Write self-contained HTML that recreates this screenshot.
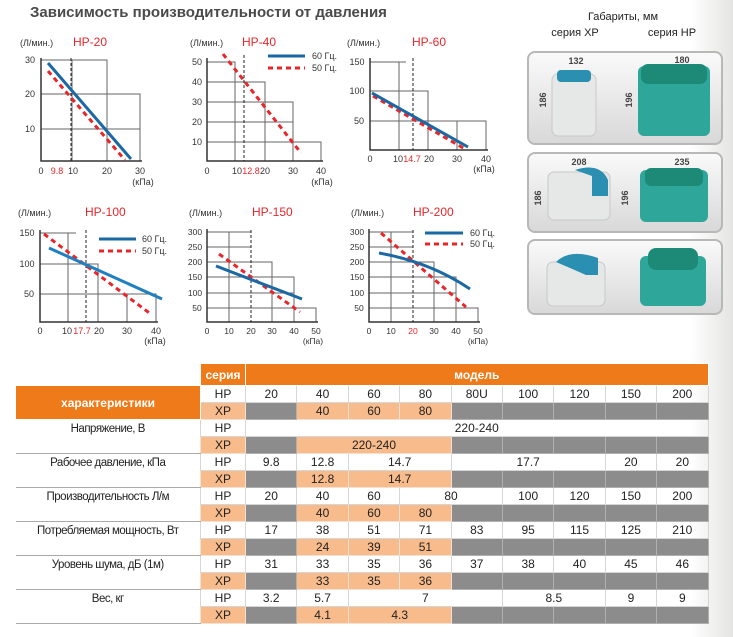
<!DOCTYPE html>
<html><head><meta charset="utf-8"><style>
body{margin:0;width:733px;height:637px;background:#fff;position:relative;overflow:hidden;font-family:"Liberation Sans",sans-serif;}
.grad{position:absolute;left:690px;top:0;width:43px;height:637px;background:linear-gradient(90deg,#fff,#e4e4e2);}
svg{position:absolute;left:0;top:0;}
table{position:absolute;left:15px;top:363px;border-collapse:collapse;table-layout:fixed;font-family:"Liberation Sans Narrow","Liberation Sans",sans-serif;font-size:12px;color:#222;}
td{height:16px;padding:0;text-align:center;border:1px solid #d6d6d6;line-height:16px;}
.h{background:#ef7a1a;color:#fff;font-weight:bold;height:21px;border-color:#fff}
.o{background:#f8bb8b;border-color:#f4e0d0}
.g{background:#8c8c8c;border-color:#b0b0b0}
.l{border:none;vertical-align:top;border-bottom:1px solid #aaa;font-size:11.5px;letter-spacing:-0.5px;padding-top:1px}
</style></head><body>
<div class="grad"></div>
<svg width="733" height="637" viewBox="0 0 733 637" font-family="Liberation Sans, sans-serif">
<defs><linearGradient id="pg" x1="0" y1="0" x2="0" y2="1"><stop offset="0" stop-color="#fafafa"/><stop offset="1" stop-color="#d8d8d8"/></linearGradient></defs>
<text x="30" y="17" font-size="15" font-weight="bold" fill="#4a4a4a">Зависимость производительности от давления</text>
<g font-size="9" fill="#333">
<text x="20" y="46">(Л/мин.)</text><text x="73" y="46" font-size="12" fill="#e8262a">HP-20</text>
<g stroke="#666" fill="none"><path d="M41 60H107V161M72 60V161M41 94H140V161M41 129H140"/></g>
<path d="M41 58V161H142" stroke="#333" stroke-width="1.5" fill="none"/>
<line x1="71" y1="58" x2="71" y2="161" stroke="#222" stroke-dasharray="3,2"/>
<line x1="48" y1="71" x2="125" y2="160" stroke="#e8262a" stroke-width="3" stroke-dasharray="5,4"/>
<line x1="48" y1="63" x2="131" y2="159" stroke="#1a68a4" stroke-width="3"/>
<g text-anchor="middle"><text x="41" y="174">0</text><text x="57" y="174" fill="#e8262a">9.8</text><text x="73" y="174">10</text><text x="107" y="174">20</text><text x="140" y="174">30</text><text x="143" y="185">(кПа)</text>
<text x="30" y="63">30</text><text x="30" y="97">20</text><text x="30" y="132">10</text></g>
<text x="190" y="46">(Л/мин.)</text><text x="242" y="46" font-size="12" fill="#e8262a">HP-40</text>
<g stroke="#666" fill="none"><path d="M207 62H235V161M207 82H265V161M207 102H293V161M207 122H293M207 142H321V161"/></g>
<path d="M207 58V161H323" stroke="#333" stroke-width="1.5" fill="none"/>
<line x1="244" y1="55" x2="244" y2="161" stroke="#222" stroke-dasharray="3,2"/>
<line x1="223" y1="54" x2="301" y2="153" stroke="#e8262a" stroke-width="3" stroke-dasharray="5,4"/>
<line x1="268" y1="56" x2="305" y2="56" stroke="#1a68a4" stroke-width="3"/><text x="312" y="59">60 Гц.</text>
<line x1="268" y1="68" x2="305" y2="68" stroke="#e8262a" stroke-width="3" stroke-dasharray="5,4"/><text x="312" y="71">50 Гц.</text>
<g text-anchor="middle"><text x="207" y="174">0</text><text x="237" y="174">10</text><text x="251" y="174" fill="#e8262a">12.8</text><text x="265" y="174">20</text><text x="293" y="174">30</text><text x="321" y="174">40</text><text x="322" y="185">(кПа)</text>
<text x="197" y="65">50</text><text x="197" y="85">40</text><text x="197" y="105">30</text><text x="197" y="125">20</text><text x="197" y="145">10</text></g>
<text x="347" y="46">(Л/мин.)</text><text x="412" y="46" font-size="12" fill="#e8262a">HP-60</text>
<g stroke="#666" fill="none"><path d="M370 62H406M399 62V150M370 91H428V150M370 121H486V150M457 121V150"/></g>
<path d="M370 58V150H488" stroke="#333" stroke-width="1.5" fill="none"/>
<line x1="413" y1="58" x2="413" y2="150" stroke="#222" stroke-dasharray="3,2"/>
<line x1="373" y1="96" x2="465" y2="149" stroke="#e8262a" stroke-width="3" stroke-dasharray="5,4"/>
<line x1="372" y1="93" x2="468" y2="147" stroke="#1a68a4" stroke-width="3"/>
<g text-anchor="middle"><text x="370" y="162">0</text><text x="398" y="162">10</text><text x="412" y="162" fill="#e8262a">14.7</text><text x="429" y="162">20</text><text x="457" y="162">30</text><text x="486" y="162">40</text><text x="484" y="172">(кПа)</text>
<text x="357" y="65">150</text><text x="357" y="94">100</text><text x="359" y="124">50</text></g>
<text x="18" y="216">(Л/мин.)</text><text x="85" y="216" font-size="12" fill="#e8262a">HP-100</text>
<g stroke="#666" fill="none"><path d="M40 233H76M68 233V322M40 264H98V322M40 294H156V322M127 294V322"/></g>
<path d="M40 230V322H158" stroke="#333" stroke-width="1.5" fill="none"/>
<line x1="86" y1="230" x2="86" y2="322" stroke="#222" stroke-dasharray="3,2"/>
<line x1="44" y1="234" x2="152" y2="315" stroke="#e8262a" stroke-width="3" stroke-dasharray="5,4"/>
<line x1="49" y1="248" x2="162" y2="299" stroke="#1f7fbf" stroke-width="3"/>
<line x1="99" y1="239" x2="136" y2="239" stroke="#1a68a4" stroke-width="3"/><text x="142" y="242">60 Гц.</text>
<line x1="99" y1="251" x2="136" y2="251" stroke="#e8262a" stroke-width="3" stroke-dasharray="5,4"/><text x="142" y="254">50 Гц.</text>
<g text-anchor="middle"><text x="40" y="334">0</text><text x="67" y="334">10</text><text x="82" y="334" fill="#e8262a">17.7</text><text x="99" y="334">20</text><text x="127" y="334">30</text><text x="156" y="334">40</text><text x="155" y="344">(кПа)</text>
<text x="27" y="236">150</text><text x="27" y="267">100</text><text x="29" y="297">50</text></g>
<text x="189" y="216">(Л/мин.)</text><text x="252" y="216" font-size="12" fill="#e8262a">HP-150</text>
<g stroke="#666" fill="none"><path d="M207 232H251M229 232V322M207 247H251M207 262H272V322M207 277H294V322M207 293H294M207 308H316V322"/></g>
<path d="M207 229V322H318" stroke="#333" stroke-width="1.5" fill="none"/>
<line x1="251" y1="230" x2="251" y2="322" stroke="#222" stroke-dasharray="3,2"/>
<line x1="219" y1="254" x2="300" y2="312" stroke="#e8262a" stroke-width="3" stroke-dasharray="5,4"/>
<line x1="216" y1="266" x2="302" y2="299" stroke="#1a68a4" stroke-width="3"/>
<g text-anchor="middle" font-size="8.5"><text x="207" y="334">0</text><text x="229" y="334">10</text><text x="251" y="334">20</text><text x="272" y="334">30</text><text x="294" y="334">40</text><text x="316" y="334">50</text><text x="313" y="344">(кПа)</text>
<text x="195" y="235">300</text><text x="195" y="250">250</text><text x="195" y="265">200</text><text x="195" y="280">150</text><text x="195" y="296">100</text><text x="197" y="311">50</text></g>
<text x="351" y="216">(Л/мин.)</text><text x="413" y="216" font-size="12" fill="#e8262a">HP-200</text>
<g stroke="#666" fill="none"><path d="M369 232H413M391 232V322M369 247H413M369 262H434V322M369 277H456V322M369 293H456M369 308H478V322"/></g>
<path d="M369 229V322H480" stroke="#333" stroke-width="1.5" fill="none"/>
<line x1="413" y1="230" x2="413" y2="322" stroke="#222" stroke-dasharray="3,2"/>
<line x1="381" y1="233" x2="466" y2="307" stroke="#e8262a" stroke-width="3" stroke-dasharray="5,4"/>
<path d="M379 253Q430 262 470 289" stroke="#1a68a4" stroke-width="3" fill="none"/>
<line x1="425" y1="233" x2="463" y2="233" stroke="#1a68a4" stroke-width="3"/><text x="470" y="236">60 Гц.</text>
<line x1="425" y1="244" x2="463" y2="244" stroke="#e8262a" stroke-width="3" stroke-dasharray="5,4"/><text x="470" y="247">50 Гц.</text>
<g text-anchor="middle" font-size="8.5"><text x="369" y="334">0</text><text x="391" y="334">10</text><text x="413" y="334" fill="#e8262a">20</text><text x="434" y="334">30</text><text x="456" y="334">40</text><text x="478" y="334">50</text><text x="478" y="344">(кПа)</text>
<text x="357" y="235">300</text><text x="357" y="250">250</text><text x="357" y="265">200</text><text x="357" y="280">150</text><text x="357" y="296">100</text><text x="359" y="311">50</text></g>
</g>
<g font-size="11" fill="#222" text-anchor="middle">
<text x="623" y="20">Габариты, мм</text><text x="575" y="36">серия XP</text><text x="672" y="36">серия HP</text></g>
<g stroke="#b8b8b8" stroke-width="2" fill="url(#pg)">
<rect x="528" y="52" width="194" height="92" rx="7"/>
<rect x="528" y="153" width="194" height="79" rx="7"/>
<rect x="528" y="240" width="194" height="74" rx="7"/></g>
<g>
<rect x="552" y="74" width="44" height="62" rx="6" fill="#e6e8e8" stroke="#c8c8c8"/>
<rect x="557" y="70" width="34" height="12" rx="4" fill="#2a8fb0"/>
<rect x="638" y="66" width="72" height="70" rx="6" fill="#2ea79a"/>
<rect x="641" y="64" width="66" height="20" rx="7" fill="#1d8a78"/>
<rect x="548" y="172" width="62" height="48" rx="6" fill="#e6e8e8" stroke="#c8c8c8"/>
<path d="M575 170Q600 162 608 180V196H592V176Z" fill="#2a8fb0"/>
<rect x="640" y="170" width="68" height="52" rx="6" fill="#2ea79a"/>
<rect x="645" y="168" width="58" height="18" rx="6" fill="#1d8a78"/>
<rect x="547" y="262" width="58" height="44" rx="6" fill="#e6e8e8" stroke="#c8c8c8"/>
<path d="M556 262Q570 248 598 258V275H586L570 268Z" fill="#2a8fb0"/>
<rect x="640" y="256" width="66" height="50" rx="6" fill="#2ea79a"/>
<rect x="648" y="248" width="50" height="22" rx="8" fill="#1d8a78"/>
</g>
<g font-size="9" font-weight="bold" fill="#444" text-anchor="middle">
<text x="576" y="64">132</text><text x="682" y="63">180</text><text x="579" y="165">208</text><text x="682" y="165">235</text>
<text transform="translate(546,100) rotate(-90)">186</text><text transform="translate(632,100) rotate(-90)">196</text>
<text transform="translate(541,198) rotate(-90)">186</text><text transform="translate(628,198) rotate(-90)">196</text></g>
</svg>
<table>
<colgroup><col style="width:185px"><col style="width:45px"><col span="9" style="width:51.4px"></colgroup>
<tr><td style="border:none"></td><td class="h">серия</td><td class="h" colspan="9">модель</td></tr>
<tr><td class="h" rowspan="2" style="vertical-align:middle">характеристики</td><td>HP</td><td>20</td><td>40</td><td>60</td><td>80</td><td>80U</td><td>100</td><td>120</td><td>150</td><td>200</td></tr>
<tr><td class="o">XP</td><td class="g"></td><td class="o">40</td><td class="o">60</td><td class="o">80</td><td class="g"></td><td class="g"></td><td class="g"></td><td class="g"></td><td class="g"></td></tr>
<tr><td class="l" rowspan="2">Напряжение, В</td><td>HP</td><td colspan="9">220-240</td></tr>
<tr><td class="o">XP</td><td class="g"></td><td class="o" colspan="3">220-240</td><td class="g"></td><td class="g"></td><td class="g"></td><td class="g"></td><td class="g"></td></tr>
<tr><td class="l" rowspan="2">Рабочее давление, кПа</td><td>HP</td><td>9.8</td><td>12.8</td><td colspan="2">14.7</td><td colspan="3">17.7</td><td>20</td><td>20</td></tr>
<tr><td class="o">XP</td><td class="g"></td><td class="o">12.8</td><td class="o" colspan="2">14.7</td><td class="g"></td><td class="g"></td><td class="g"></td><td class="g"></td><td class="g"></td></tr>
<tr><td class="l" rowspan="2">Производительность Л/м</td><td>HP</td><td>20</td><td>40</td><td>60</td><td colspan="2">80</td><td>100</td><td>120</td><td>150</td><td>200</td></tr>
<tr><td class="o">XP</td><td class="g"></td><td class="o">40</td><td class="o">60</td><td class="o">80</td><td class="g"></td><td class="g"></td><td class="g"></td><td class="g"></td><td class="g"></td></tr>
<tr><td class="l" rowspan="2">Потребляемая мощность, Вт</td><td>HP</td><td>17</td><td>38</td><td>51</td><td>71</td><td>83</td><td>95</td><td>115</td><td>125</td><td>210</td></tr>
<tr><td class="o">XP</td><td class="g"></td><td class="o">24</td><td class="o">39</td><td class="o">51</td><td class="g"></td><td class="g"></td><td class="g"></td><td class="g"></td><td class="g"></td></tr>
<tr><td class="l" rowspan="2">Уровень шума, дБ (1м)</td><td>HP</td><td>31</td><td>33</td><td>35</td><td>36</td><td>37</td><td>38</td><td>40</td><td>45</td><td>46</td></tr>
<tr><td class="o">XP</td><td class="g"></td><td class="o">33</td><td class="o">35</td><td class="o">36</td><td class="g"></td><td class="g"></td><td class="g"></td><td class="g"></td><td class="g"></td></tr>
<tr><td class="l" rowspan="2">Вес, кг</td><td>HP</td><td>3.2</td><td>5.7</td><td colspan="3">7</td><td colspan="2">8.5</td><td>9</td><td>9</td></tr>
<tr><td class="o">XP</td><td class="g"></td><td class="o">4.1</td><td class="o" colspan="2">4.3</td><td class="g"></td><td class="g"></td><td class="g"></td><td class="g"></td><td class="g"></td></tr>
</table>
</body></html>
